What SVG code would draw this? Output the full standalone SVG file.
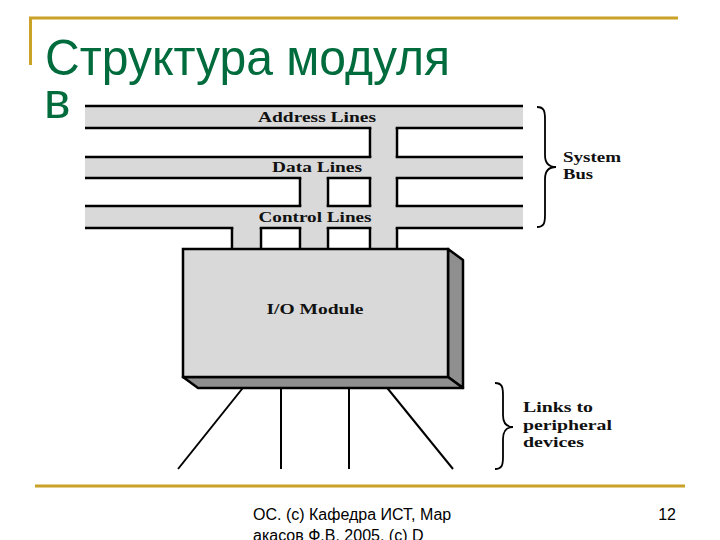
<svg xmlns="http://www.w3.org/2000/svg" width="720" height="540" viewBox="0 0 720 540">
<style>
.gold{stroke:#C9A227;stroke-width:3;fill:none}
.title{font-family:"Liberation Sans",Arial,sans-serif;font-size:50px;fill:#006B3C}
.foot{font-family:"Liberation Sans",Arial,sans-serif;font-size:16px;fill:#000}
.bar{fill:#d9d9d9;stroke:none}
.edge{stroke:#000;stroke-width:2.5;fill:none}
.lbl{font-family:"Liberation Serif","Times New Roman",serif;font-weight:bold;font-size:15px;fill:#111}
.side{fill:#8f8f8f;stroke:#000;stroke-width:2.5;stroke-linejoin:round}
.link{stroke:#000;stroke-width:2;fill:none}
.brace{stroke:#000;stroke-width:1.8;fill:none}
</style>
<rect width="720" height="540" fill="#fff"/>
<g id="frame">
<line class="gold" x1="29" y1="18" x2="678" y2="18"/>
<line class="gold" x1="30.5" y1="17" x2="30.5" y2="65"/>
<line class="gold" x1="35" y1="486" x2="685" y2="486"/>
</g>
<g id="title">
<text class="title" x="45" y="75" textLength="405" lengthAdjust="spacingAndGlyphs">Структура модуля</text>
<text class="title" x="44" y="118">в</text>
</g>
<g id="footer">
<text class="foot" x="253" y="520">ОС. (с) Кафедра ИСТ, Мар</text>
<text class="foot" x="253" y="541">акасов Ф.В. 2005, (c) D</text>
<text class="foot" x="676" y="520" text-anchor="end">12</text>
</g>
<g id="address-lines">
<rect class="bar" x="85" y="106" width="438" height="22" stroke="#999" stroke-width="1"/>
<line class="edge" x1="85" y1="106" x2="523" y2="106"/>
<line class="edge" x1="85" y1="128" x2="523" y2="128"/>
</g>
<g id="data-lines">
<rect class="bar" x="85" y="157" width="438" height="21" stroke="#999" stroke-width="1"/>
<line class="edge" x1="85" y1="157" x2="523" y2="157"/>
<line class="edge" x1="85" y1="178" x2="523" y2="178"/>
</g>
<g id="control-lines">
<rect class="bar" x="85" y="206" width="438" height="22" stroke="#999" stroke-width="1"/>
<line class="edge" x1="85" y1="206" x2="523" y2="206"/>
<line class="edge" x1="85" y1="228" x2="523" y2="228"/>
</g>
<g id="connectors">
<rect class="bar" x="371.3" y="126" width="24.4" height="124"/>
<rect class="bar" x="301.3" y="176" width="25.4" height="74"/>
<rect class="bar" x="233.3" y="226" width="26.4" height="24"/>
<path class="edge" d="M370,128V157M397,128V157M370,178V206M397,178V206M370,228V250M397,228V250"/>
<path class="edge" d="M300,178V206M328,178V206M300,228V250M328,228V250"/>
<path class="edge" d="M232,228V250M261,228V250"/>
<line class="link" x1="246" y1="384" x2="178" y2="469"/>
<line class="link" x1="281" y1="384" x2="281" y2="469"/>
<line class="link" x1="349" y1="384" x2="349" y2="469"/>
<line class="link" x1="384" y1="384" x2="453" y2="469"/>
</g>
<g id="bus-labels">
<text class="lbl" x="317" y="122" text-anchor="middle" textLength="118" lengthAdjust="spacingAndGlyphs">Address Lines</text>
<text class="lbl" x="317" y="172" text-anchor="middle" textLength="90" lengthAdjust="spacingAndGlyphs">Data Lines</text>
<text class="lbl" x="315" y="222" text-anchor="middle" textLength="113" lengthAdjust="spacingAndGlyphs">Control Lines</text>
</g>
<g id="io-module">
<polygon class="side" points="448,249 463,260 463,388 448,377"/>
<polygon class="side" points="183,377 448,377 463,388 198,388"/>
<rect x="183" y="249" width="265" height="128" fill="#d9d9d9" stroke="#000" stroke-width="2.5"/>
<text class="lbl" x="315" y="314" text-anchor="middle" textLength="97" lengthAdjust="spacingAndGlyphs">I/O Module</text>
</g>
<g id="system-bus">
<path class="brace" d="M537,107C544,107 545,111 545,119L545,155C545,163 548,167 556,167C548,167 545,171 545,179L545,215C545,223 544,227 537,227"/>
<text class="lbl" x="563" y="162" font-weight="normal" textLength="58" lengthAdjust="spacingAndGlyphs">System</text>
<text class="lbl" x="563" y="179" font-weight="normal" textLength="30" lengthAdjust="spacingAndGlyphs">Bus</text>
</g>
<g id="peripheral-links">
<path class="brace" d="M495,383C502,383 503,387 503,395L503,415C503,423 506,427 513,427C506,427 503,431 503,439L503,457C503,465 502,469 495,469"/>
<text class="lbl" x="523" y="412" textLength="70" lengthAdjust="spacingAndGlyphs">Links to</text>
<text class="lbl" x="523" y="430" textLength="89" lengthAdjust="spacingAndGlyphs">peripheral</text>
<text class="lbl" x="523" y="447" textLength="61" lengthAdjust="spacingAndGlyphs">devices</text>
</g>
</svg>
